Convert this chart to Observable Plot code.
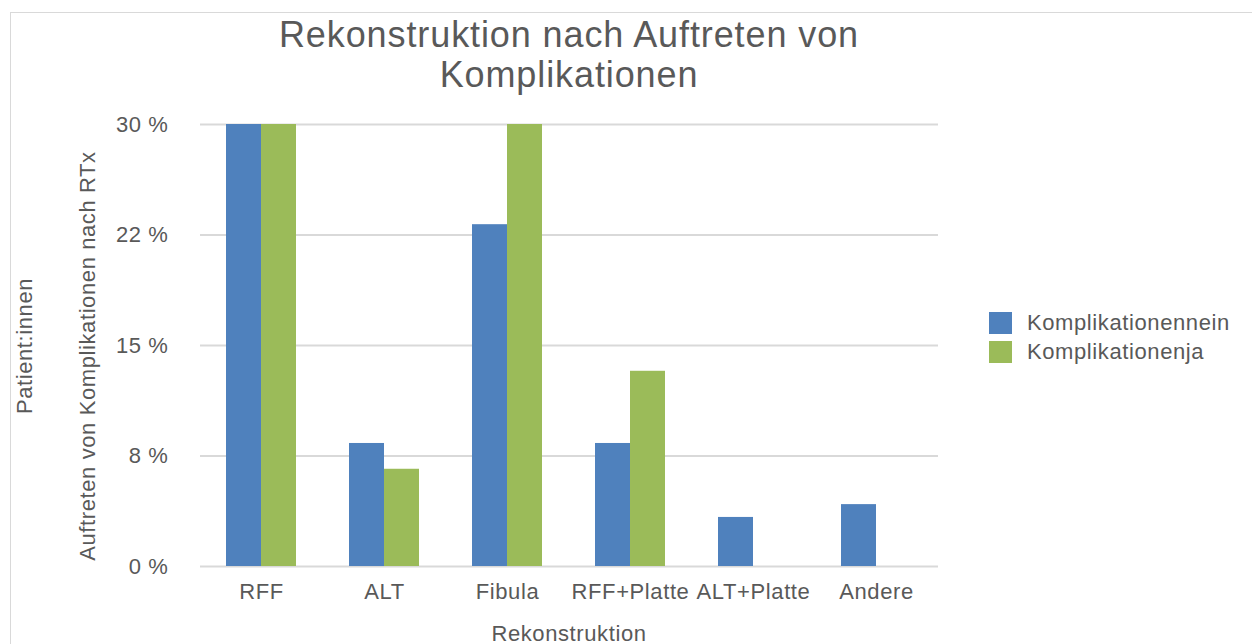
<!DOCTYPE html>
<html><head><meta charset="utf-8">
<script src="https://cdn.jsdelivr.net/npm/d3@7"></script>
<script src="https://cdn.jsdelivr.net/npm/@observablehq/plot@0.6"></script>
<style>
body{margin:0;background:#fff;font-family:"Liberation Sans",Arial,sans-serif;color:#595959;overflow:hidden;width:1252px;height:644px;position:relative}
#frame{position:absolute;left:10px;top:12px;width:1400px;height:800px;border:1px solid #d9d9d9;box-sizing:border-box}
#title{position:absolute;left:169px;width:800px;top:15px;text-align:center;font-size:36px;line-height:40px;letter-spacing:0.9px}
#chart{position:absolute;left:0;top:100px}
.rot{position:absolute;white-space:nowrap;font-size:22px;letter-spacing:0.6px;transform:translate(-50%,-50%) rotate(-90deg)}
#xlab{position:absolute;left:169px;width:800px;top:621px;text-align:center;font-size:22px;letter-spacing:0.6px;white-space:nowrap}
#legend{position:absolute;left:989px;top:312px}
.li{position:relative;height:29px;white-space:nowrap}
.sw{position:absolute;left:0;top:0;width:23px;height:22px}
.lt{position:absolute;left:38px;top:-1px;font-size:22px;letter-spacing:0.6px;line-height:24px}
</style></head><body>
<div id="frame"></div>
<div id="title">Rekonstruktion nach Auftreten von<br>Komplikationen</div>
<div id="chart"></div>
<div class="rot" style="left:25px;top:346px">Patient:innen</div>
<div class="rot" style="left:88px;top:356px">Auftreten von Komplikationen nach RTx</div>
<div id="xlab">Rekonstruktion</div>
<div id="legend"></div>
<script>
const categories = ["RFF", "ALT", "Fibula", "RFF+Platte", "ALT+Platte", "Andere"];
const series = ["Komplikationennein", "Komplikationenja"];
const neinValues = [30, 8.35, 23.2, 8.35, 3.33, 4.2];
const jaValues = [30, 6.6, 30, 13.25, 0, 0];
const yTicks = [0, 7.5, 15, 22.5, 30];
const yTickLabels = ["0 %", "8 %", "15 %", "22 %", "30 %"];
const colors = ["#4F81BD", "#9BBB59"];

const data = categories.flatMap((c, i) => [
  {cat: c, s: series[0], v: neinValues[i]},
  {cat: c, s: series[1], v: jaValues[i]}
]);

const plot = Plot.plot({
  width: 960, height: 544,
  marginLeft: 200, marginRight: 22, marginTop: 24, marginBottom: 78,
  style: {fontFamily: '"Liberation Sans", Arial, sans-serif', fontSize: "22px", color: "#595959", background: "transparent", overflow: "visible", letterSpacing: "0.6px"},
  x: {domain: categories, paddingInner: 0.43, paddingOuter: 0.215, label: null, tickSize: 0, tickPadding: 17},
  y: {domain: [0, 30], ticks: yTicks, tickFormat: d => yTickLabels[yTicks.indexOf(d)], label: null, tickSize: 0, tickPadding: 32},
  color: {domain: series, range: colors},
  marks: [
    Plot.ruleY(yTicks, {stroke: "#d9d9d9", strokeWidth: 2}),
    Plot.barY(data.filter(d => d.s === series[0]), {x: "cat", y: "v", fill: "s", insetRight: 35}),
    Plot.barY(data.filter(d => d.s === series[1]), {x: "cat", y: "v", fill: "s", insetLeft: 35})
  ]
});
document.getElementById("chart").appendChild(plot);

const legend = document.getElementById("legend");
series.forEach((s, i) => {
  const row = document.createElement("div");
  row.className = "li";
  row.innerHTML = `<div class="sw" style="background:${colors[i]}"></div><div class="lt">${s}</div>`;
  legend.appendChild(row);
});
</script>
</body></html>
